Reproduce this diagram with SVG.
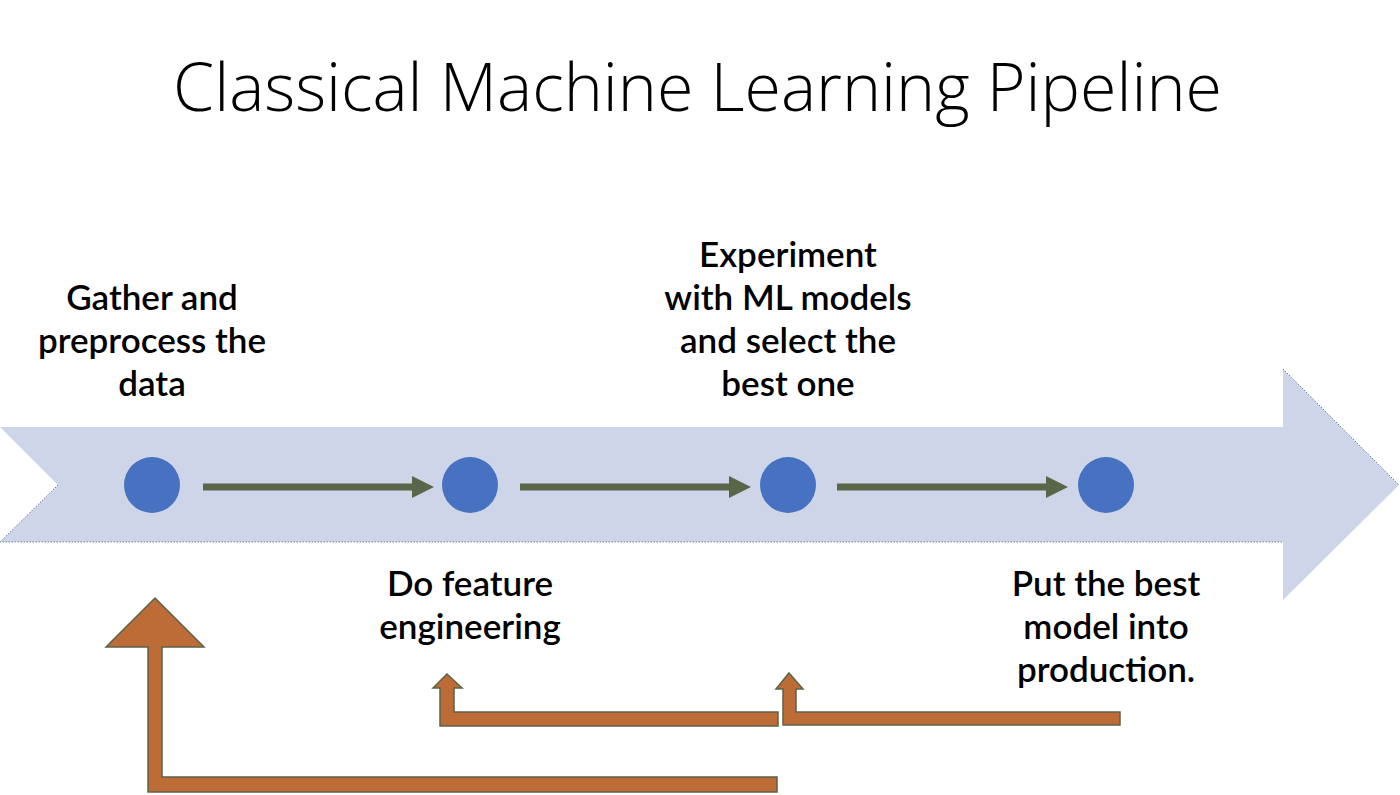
<svg xmlns="http://www.w3.org/2000/svg" width="1400" height="795" viewBox="0 0 1400 795">
<defs>
<style>
.title{font-family:"Open Sans",Lato,"Liberation Sans",sans-serif;font-weight:300;font-size:66px;fill:#000}
.lbl{font-family:Lato,"Open Sans","Liberation Sans",sans-serif;font-weight:600;font-size:35px;fill:#000;text-anchor:middle}
.dot{fill:#4672c1}
.flow{fill:#5b6548}
.back{fill:#bd6c37;stroke:#5b6348;stroke-width:1.5;stroke-linejoin:miter}
.edge{fill:none;stroke:#44546a;stroke-width:1;stroke-dasharray:1 2}
</style>
</defs>
<rect width="1400" height="795" fill="#fff"/>
<text class="title" x="173" y="111" textLength="1049" lengthAdjust="spacingAndGlyphs">Classical Machine Learning Pipeline</text>
<g id="band">
<polygon points="0,427 1283,427 1283,369 1399,485 1283,600 1283,542 0,542 58,485" fill="#cfd5e8"/>
<polyline class="edge" points="1283,369 1399,485"/>
<polyline class="edge" points="58,485 0,542 1283,542"/>
</g>
<g id="connectors">
<g id="flow1"><rect class="flow" x="203" y="483.5" width="210" height="7"/><polygon class="flow" points="412,476 434,487 412,498"/></g>
<g id="flow2"><rect class="flow" x="520" y="483.5" width="210" height="7"/><polygon class="flow" points="729,476 751,487 729,498"/></g>
<g id="flow3"><rect class="flow" x="837" y="483.5" width="210" height="7"/><polygon class="flow" points="1046,476 1068,487 1046,498"/></g>
<polygon id="back1" class="back" points="155,598 204,647 162,647 162,777 777,777 777,792 148,792 148,647 106,647"/>
<polygon id="back2" class="back" points="447,674 462,688 454,688 454,712 778,712 778,726 440,726 440,688 433,688"/>
<polygon id="back3" class="back" points="789,673 803,689 796,689 796,712 1120,712 1120,725 783,725 783,689 776,689"/>
</g>
<g id="step1">
<circle class="dot" cx="152" cy="485" r="28"/>
<text class="lbl" x="152" y="310">Gather and</text>
<text class="lbl" x="152" y="353">preprocess the</text>
<text class="lbl" x="152" y="396">data</text>
</g>
<g id="step2">
<circle class="dot" cx="470" cy="485" r="28"/>
<text class="lbl" x="470" y="596">Do feature</text>
<text class="lbl" x="470" y="639">engineering</text>
</g>
<g id="step3">
<circle class="dot" cx="788" cy="485" r="28"/>
<text class="lbl" x="788" y="267">Experiment</text>
<text class="lbl" x="788" y="310">with ML models</text>
<text class="lbl" x="788" y="353">and select the</text>
<text class="lbl" x="788" y="396">best one</text>
</g>
<g id="step4">
<circle class="dot" cx="1106" cy="485" r="28"/>
<text class="lbl" x="1106" y="596">Put the best</text>
<text class="lbl" x="1106" y="639">model into</text>
<text class="lbl" x="1106" y="682">production.</text>
</g>
</svg>
